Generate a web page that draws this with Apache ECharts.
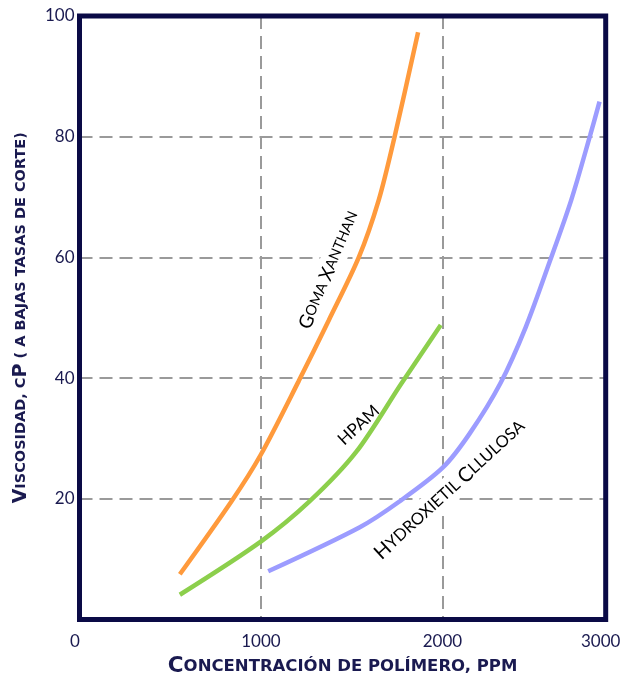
<!DOCTYPE html>
<html><head><meta charset="utf-8">
<script src="https://cdn.jsdelivr.net/npm/echarts@6/dist/echarts.min.js"></script>
<style>html,body{margin:0;padding:0;background:#fff}#c{width:624px;height:674px}</style>
</head><body><div id="c"></div>
<script>
// ---- data ----
const xTickLabels = [0, 1000, 2000, 3000];
const xMax = 2900;
const yTicks = [20, 40, 60, 80, 100];

const gomaX = [553, 838, 999, 1208, 1374, 1539, 1649, 1735, 1866];
const gomaY = [7.5, 19.6, 27.3, 39.5, 49.6, 60.0, 69.5, 79.8, 97.3];

const hpamX = [553, 999, 1269, 1526, 1774, 1991];
const hpamY = [4.1, 12.9, 19.6, 27.8, 39.1, 48.8];

const hecX = [1040, 1545, 1765, 2003, 2150, 2319, 2460, 2595, 2710, 2815, 2866];
const hecY = [8.0, 15.3, 19.6, 25.2, 30.8, 39.1, 48.5, 59.6, 69.5, 80.3, 85.8];

const seriesNames = ['Goma Xanthan', 'HPAM', 'Hydroxietil Cllulosa'];
// label anchors (data coordinates) and angles
const labelX = [1374, 1539, 2040];
const labelY = [57.9, 32.2, 21.5];
const labelAngle = [67, 43, 42.4];

// ---- style ----
const NAVY = '#1a1a50';
const BORDER = '#0a0a46';
const colors = ['#ff9a3c', '#8ccf4c', '#9c9cff'];
const FONT = 'Lato';
const TFONT = 'DejaVu Sans';

const zip = (xs, ys) => xs.map((x, i) => [x, ys[i]]);

const chart = echarts.init(document.getElementById('c'));
const dash = { color: '#9a9a9a', width: 2, type: [13, 7] };
const mkRich = (b, s) => ({
  b: { fontFamily: TFONT, fontWeight: 'bold', fontSize: b, color: NAVY },
  s: { fontFamily: TFONT, fontWeight: 'bold', fontSize: s, color: NAVY }
});

chart.setOption({
  animation: false,
  backgroundColor: '#fff',
  grid: { left: 79.5, top: 16, right: 18.3, bottom: 54.5, outerBoundsMode: 'none', containLabel: false, show: true, borderColor: BORDER, borderWidth: 5, backgroundColor: 'transparent', z: 10 },
  xAxis: {
    type: 'value', min: 0, max: xMax, interval: 1000,
    axisLine: { show: false }, axisTick: { show: false },
    splitLine: { show: true, lineStyle: dash },
    axisLabel: {
      margin: 14, color: NAVY, fontFamily: FONT, fontSize: 17,
      formatter: v => {
        if (v === 0) return '{l|' + xTickLabels[0] + '}';
        if (v === xMax) return '{r|' + xTickLabels[3] + '}';
        return String(v);
      },
      rich: {
        l: { color: NAVY, fontFamily: FONT, fontSize: 17, padding: [0, 9, 0, 0] },
        r: { color: NAVY, fontFamily: FONT, fontSize: 17, padding: [0, 10, 0, 0] }
      }
    },
    name: '{b|C}{s|ONCENTRACIÓN DE POLÍMERO, PPM}',
    nameLocation: 'middle', nameGap: 29,
    nameTextStyle: { rich: mkRich(21.5, 16.5) }
  },
  yAxis: {
    type: 'value', min: 0, max: 100, interval: 20,
    axisLine: { show: false }, axisTick: { show: false },
    splitLine: { show: true, lineStyle: dash },
    axisLabel: { showMinLabel: false, margin: 5, color: NAVY, fontFamily: FONT, fontSize: 17 },
    name: '{b|V}{s|ISCOSIDAD, C}{b|P}{s| ( A BAJAS TASAS DE CORTE)}',
    nameLocation: 'middle', nameGap: 49, nameRotate: 90,
    nameTextStyle: { rich: mkRich(19, 14.5) }
  },
  series: [
    { name: seriesNames[0], data: zip(gomaX, gomaY) },
    { name: seriesNames[1], data: zip(hpamX, hpamY) },
    { name: seriesNames[2], data: zip(hecX, hecY) }
  ].map((s, i) => Object.assign(s, {
    type: 'line', smooth: 0.3, showSymbol: false, z: 3,
    lineStyle: { color: colors[i], width: 4.5, cap: 'butt' },
    itemStyle: { color: colors[i] }
  }))
});

const labelTexts = [
  '{b|G}{s|OMA }{b|X}{s|ANTHAN}',
  '{b|HPAM}',
  '{b|H}{s|YDROXIETIL }{b|C}{s|LLULOSA}'
];
const labelRich = [
  { b: { fontFamily: FONT, fontSize: 19, color: NAVY }, s: { fontFamily: FONT, fontSize: 14.5, color: NAVY } },
  { b: { fontFamily: FONT, fontSize: 17, color: NAVY } },
  { b: { fontFamily: FONT, fontSize: 20, color: NAVY }, s: { fontFamily: FONT, fontSize: 16.5, color: NAVY } }
];
const elements = labelTexts.map((t, i) => {
  const p = chart.convertToPixel({ gridIndex: 0 }, [labelX[i], labelY[i]]);
  return {
    type: 'text', x: p[0], y: p[1], rotation: labelAngle[i] * Math.PI / 180, z: 1,
    style: { text: t, rich: labelRich[i], x: 0, y: 0, align: 'center', verticalAlign: 'middle', backgroundColor: '#fff', padding: [3, 6] }
  };
});
chart.setOption({ graphic: { elements } });
</script>
</body></html>
